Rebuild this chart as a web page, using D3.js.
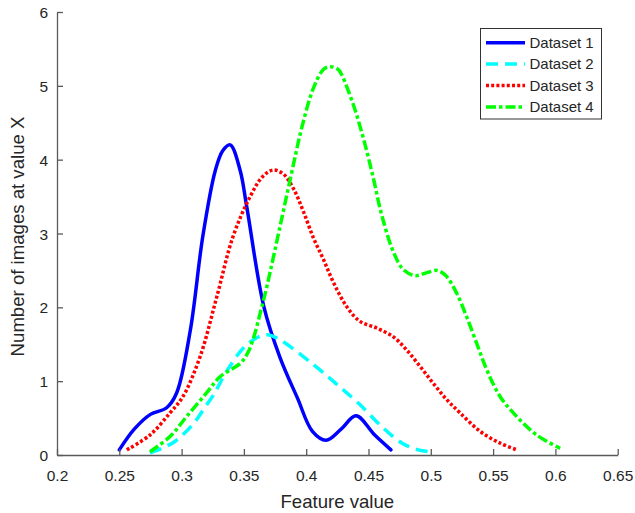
<!DOCTYPE html>
<html>
<head>
<meta charset="utf-8">
<script src="https://cdn.jsdelivr.net/npm/d3@7"></script>
<style>
  html, body { margin: 0; padding: 0; background: #fff; }
  svg { display: block; font-family: "Liberation Sans", Arial, Helvetica, sans-serif; }
</style>
</head>
<body>
<svg id="chart" width="635" height="513"></svg>
<script>
// Feature-value distributions for four datasets
const seriesNames = ["Dataset 1", "Dataset 2", "Dataset 3", "Dataset 4"];

const x1 = [0.250, 0.262, 0.275, 0.288, 0.296, 0.307, 0.317, 0.327, 0.333, 0.339, 0.3469, 0.3523, 0.366, 0.379, 0.393, 0.405, 0.416, 0.428, 0.440, 0.455, 0.468];
const y1 = [0.07, 0.35, 0.55, 0.64, 0.84, 1.69, 2.96, 3.85, 4.12, 4.20, 3.86, 3.36, 2.01, 1.32, 0.77, 0.32, 0.20, 0.35, 0.53, 0.27, 0.07];

const x2 = [0.2746, 0.284, 0.2934, 0.302, 0.3108, 0.318, 0.3255, 0.336, 0.352, 0.368, 0.379, 0.406, 0.423, 0.442, 0.461, 0.477, 0.490, 0.501];
const y2 = [0.03, 0.09, 0.17, 0.29, 0.45, 0.63, 0.81, 1.13, 1.49, 1.63, 1.56, 1.22, 0.98, 0.70, 0.38, 0.16, 0.07, 0.04];

const x3 = [0.256, 0.2746, 0.2907, 0.301, 0.3148, 0.3282, 0.3413, 0.355, 0.365, 0.3736, 0.382, 0.3897, 0.3977, 0.4058, 0.4138, 0.4218, 0.4325, 0.4432, 0.4566, 0.470, 0.4807, 0.4914, 0.502, 0.5128, 0.5235, 0.5396, 0.5557, 0.569];
const y3 = [0.07, 0.27, 0.57, 0.79, 1.33, 2.14, 2.96, 3.50, 3.77, 3.86, 3.80, 3.61, 3.30, 2.94, 2.65, 2.34, 2.01, 1.81, 1.72, 1.60, 1.42, 1.20, 0.97, 0.75, 0.57, 0.32, 0.16, 0.07];

const x4 = [0.2746, 0.2907, 0.304, 0.320, 0.3308, 0.347, 0.353, 0.358, 0.3635, 0.3684, 0.3797, 0.3897, 0.3964, 0.4058, 0.4138, 0.4191, 0.4258, 0.4285, 0.4379, 0.4459, 0.4539, 0.4606, 0.470, 0.478, 0.4874, 0.497, 0.505, 0.512, 0.5208, 0.5288, 0.5369, 0.545, 0.5557, 0.569, 0.585, 0.6038];
const y4 = [0.045, 0.25, 0.52, 0.84, 1.06, 1.24, 1.38, 1.60, 1.95, 2.28, 3.15, 3.93, 4.43, 4.97, 5.22, 5.26, 5.22, 5.15, 4.74, 4.29, 3.75, 3.25, 2.75, 2.51, 2.43, 2.47, 2.50, 2.43, 2.19, 1.87, 1.51, 1.15, 0.79, 0.52, 0.27, 0.09];

const xTicks = [0.2, 0.25, 0.3, 0.35, 0.4, 0.45, 0.5, 0.55, 0.6, 0.65];
const yTicks = [0, 1, 2, 3, 4, 5, 6];

const xTitle = "Feature value";
const yTitle = "Number of images at value X";

// line styles per series
const styles = [
  { color: "#0000ff", dash: null },
  { color: "#00ffff", dash: "12,7" },
  { color: "#ff0000", dash: "3,2.2" },
  { color: "#00ff00", dash: "10,3,3.5,3" }
];

const svg = d3.select("#chart");
const plotLeft = 57, plotRight = 617.7, plotTop = 12, plotBottom = 455;

const x = d3.scaleLinear().domain([0.2, 0.65]).range([plotLeft, plotRight]);
const y = d3.scaleLinear().domain([0, 6]).range([plotBottom, plotTop]);

const axisColor = "#5a5a5a";
const textColor = "#262626";

// smooth curves through the sampled points
const line = d3.line()
  .x(d => x(d[0]))
  .y(d => y(d[1]))
  .curve(d3.curveCatmullRom.alpha(0.5));

const series = [[x1, y1], [x2, y2], [x3, y3], [x4, y4]].map(([xs, ys]) => xs.map((v, i) => [v, ys[i]]));

const plot = svg.append("g");
series.forEach((pts, i) => {
  plot.append("path")
    .datum(pts)
    .attr("d", line)
    .attr("fill", "none")
    .attr("stroke", styles[i].color)
    .attr("stroke-width", 3.5)
    .attr("stroke-linejoin", "round")
    .attr("stroke-linecap", styles[i].dash ? "butt" : "round")
    .attr("stroke-dasharray", styles[i].dash);
});

// x axis with inward ticks
const xAxis = d3.axisBottom(x).tickValues(xTicks).tickSizeInner(-6).tickSizeOuter(0)
  .tickFormat(d => String(+d.toFixed(2)));
const gx = svg.append("g").attr("transform", `translate(0,${plotBottom})`).call(xAxis);
gx.select(".domain").attr("stroke", axisColor).attr("stroke-width", 1.3);
gx.selectAll(".tick line").attr("stroke", axisColor).attr("stroke-width", 1.3);
gx.selectAll(".tick text")
  .attr("fill", textColor).attr("font-size", "15.5px")
  .attr("y", 26).attr("dy", 0);

// y axis with inward ticks
const yAxis = d3.axisLeft(y).tickValues(yTicks).tickSizeInner(-6).tickSizeOuter(0)
  .tickFormat(d3.format("d"));
const gy = svg.append("g").attr("transform", `translate(${plotLeft},0)`).call(yAxis);
gy.select(".domain").attr("stroke", axisColor).attr("stroke-width", 1.3);
gy.selectAll(".tick line").attr("stroke", axisColor).attr("stroke-width", 1.3);
gy.selectAll(".tick text")
  .attr("fill", textColor).attr("font-size", "15.5px")
  .attr("x", -9).attr("dy", "0.36em");

// axis titles
svg.append("text")
  .attr("x", (plotLeft + plotRight) / 2).attr("y", 508)
  .attr("text-anchor", "middle")
  .attr("fill", textColor).attr("font-size", "18.6px")
  .text(xTitle);

svg.append("text")
  .attr("transform", `translate(23.5,${(plotTop + plotBottom) / 2 + 3}) rotate(-90)`)
  .attr("text-anchor", "middle")
  .attr("fill", textColor).attr("font-size", "18.6px")
  .text(yTitle);

// legend
const lg = svg.append("g");
lg.append("rect")
  .attr("x", 480.5).attr("y", 28.5).attr("width", 121).attr("height", 90.5)
  .attr("fill", "#fff").attr("stroke", "#333").attr("stroke-width", 1);
const rowY = [42.7, 64, 85.5, 107];
seriesNames.forEach((name, i) => {
  lg.append("line")
    .attr("x1", 486).attr("x2", 525).attr("y1", rowY[i]).attr("y2", rowY[i])
    .attr("stroke", styles[i].color).attr("stroke-width", 3.5)
    .attr("stroke-dasharray", styles[i].dash);
  lg.append("text")
    .attr("x", 529.5).attr("y", rowY[i]).attr("dy", "0.36em")
    .attr("fill", textColor).attr("font-size", "15px")
    .text(name);
});
</script>
</body>
</html>
